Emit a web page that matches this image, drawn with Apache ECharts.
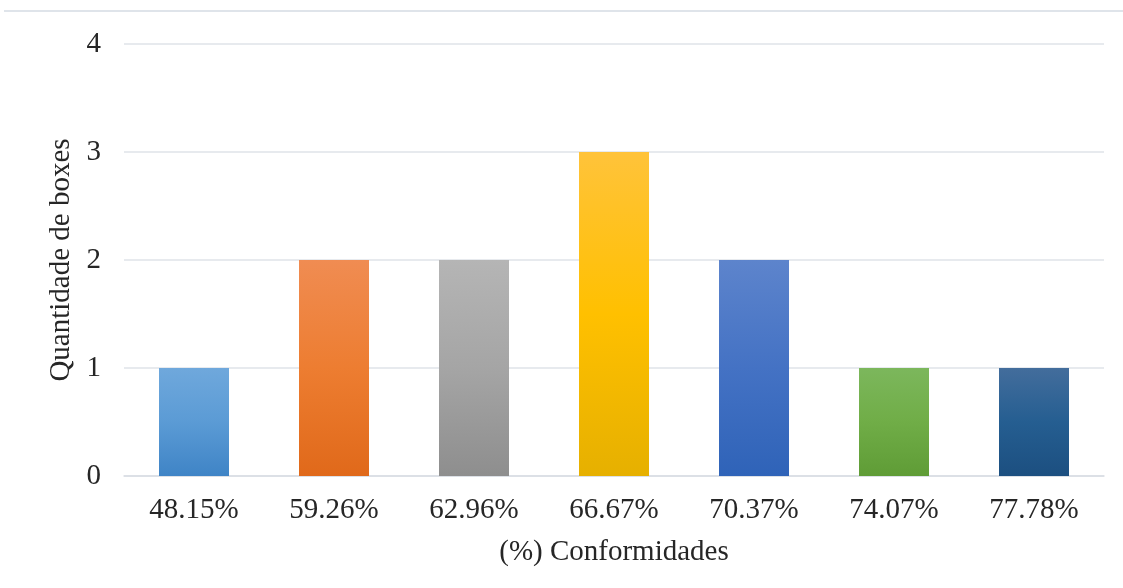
<!DOCTYPE html>
<html><head><meta charset="utf-8">
<script src="https://cdn.jsdelivr.net/npm/echarts@6/dist/echarts.min.js"></script>
<style>html,body{margin:0;padding:0;background:#fff}#c{width:1123px;height:588px}</style>
</head><body><div id="c"></div>
<script>
const categories = ['48.15%','59.26%','62.96%','66.67%','70.37%','74.07%','77.78%'];
const values = [1, 2, 2, 3, 2, 1, 1];
const gradTop = ['#6fa8dc','#f08c52','#b5b5b5','#ffc33a','#5d84cc','#7cb75c','#436d9c'];
const gradMid = ['#5b9bd5','#ed7d31','#a5a5a5','#ffc000','#4472c4','#70ad47','#255e91'];
const gradBot = ['#3f84c6','#e0691a','#8e8e8e','#e6b000','#2f63b8','#5f9c36','#1c4f80'];
const yTicks = [0,1,2,3,4];

const font = 'Liberation Serif';
const fs = 29;
const chart = echarts.init(document.getElementById('c'));
chart.setOption({
  animation:false,
  textStyle:{fontFamily:font},
  grid:{left:124,right:19,top:44,bottom:112,containLabel:false},
  graphic:[{type:'line',shape:{x1:4,y1:11,x2:1123,y2:11},style:{stroke:'#dfe4ea',lineWidth:2}}],
  xAxis:{type:'category',data:categories,
    axisLine:{show:true,lineStyle:{color:'#d9dde3',width:1.5}},axisTick:{show:false},
    axisLabel:{fontSize:fs,color:'#262626',margin:20,fontFamily:font},
    name:'(%) Conformidades',nameLocation:'middle',nameGap:62,
    nameTextStyle:{fontSize:fs,color:'#262626',fontFamily:font}},
  yAxis:{type:'value',min:0,max:4,interval:1,
    axisLabel:{fontSize:fs,color:'#262626',margin:23,fontFamily:font,formatter:v=>yTicks.includes(v)?String(v):''},
    splitLine:{lineStyle:{color:'#dfe3e9',width:1.5}},
    axisLine:{show:false},axisTick:{show:false},
    name:'Quantidade de boxes',nameLocation:'middle',nameGap:48,nameRotate:90,
    nameTextStyle:{fontSize:fs,color:'#262626',fontFamily:font}},
  series:[{type:'bar',barWidth:'50%',
    data:values.map((v,i)=>({value:v,itemStyle:{color:new echarts.graphic.LinearGradient(0,0,0,1,[
      {offset:0,color:gradTop[i]},{offset:0.5,color:gradMid[i]},{offset:1,color:gradBot[i]}])}}))}]
});
</script></body></html>
